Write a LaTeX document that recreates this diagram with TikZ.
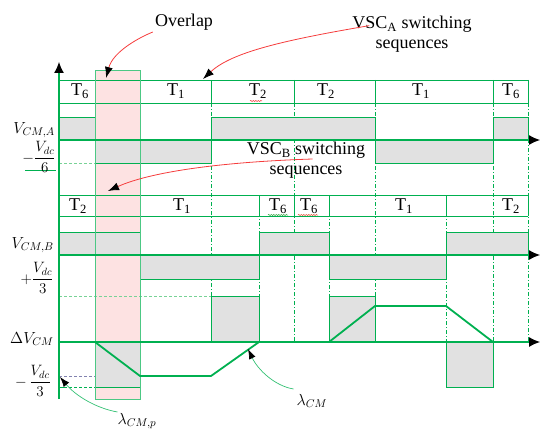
\RequirePackage{fix-cm}
\documentclass[tikz,border=0pt]{standalone}
\usepackage{fontspec}
\setmainfont{Liberation Serif}
\usetikzlibrary{arrows.meta,decorations.pathmorphing}
\definecolor{sig}{RGB}{0,176,80}
\definecolor{sigl}{RGB}{120,210,150}
\definecolor{gbox}{RGB}{225,225,225}
\definecolor{olap}{RGB}{253,226,226}
\definecolor{callred}{RGB}{245,60,60}
\definecolor{lamdash}{RGB}{130,130,175}
\begin{document}
\begin{tikzpicture}[x=1pt,y=-1pt,
  grid/.style={draw=sig,line width=0.9pt},
  wavebox/.style={draw=sig,line width=0.9pt,fill=gbox},
  tdash/.style={draw=sig,line width=0.7pt,dash pattern=on 4pt off 2pt on 1pt off 2pt},
  ldash/.style={draw=sigl,line width=0.7pt,dash pattern=on 3pt off 2pt},
  axisline/.style={draw=sig,line width=1.1pt,-{Latex[length=11pt,width=10pt,color=black]}},
  callout/.style={draw=callred,line width=0.8pt,-{Latex[length=11pt,width=8pt,color=black]}},
  gcallout/.style={draw=sig!80,line width=0.7pt,-{Latex[length=10pt,width=7pt,color=black]}},
  tlbl/.style={inner sep=0pt,font=\fontsize{18}{20}\selectfont},
  txt/.style={inner sep=0pt,align=center,font=\fontsize{18}{22}\selectfont},
  mlbl/.style={inner sep=0pt,font=\fontsize{16}{18}\selectfont},
  flbl/.style={inner sep=0pt,font=\fontsize{15}{17}\selectfont},
  squig/.style={line width=0.5pt,decorate,decoration={snake,amplitude=0.6pt,segment length=2.5pt}}]
\useasboundingbox (0,0) rectangle (540,433);

% overlap window
\fill[olap] (95,70) rectangle (140,399);

% time boundaries (dash-dot)
\foreach \xx in {211,294,375,493,528} \draw[tdash] (\xx,103) -- (\xx,342);
\foreach \xx in {259,329,446} \draw[tdash] (\xx,195) -- (\xx,342);

% level references
\draw[ldash] (59,163) -- (95,163);
\draw[ldash] (59,296) -- (211,296);
\draw[draw=lamdash,line width=0.7pt,dash pattern=on 3pt off 2pt] (59,376) -- (140,376);
\draw[draw=sig,line width=0.7pt,dash pattern=on 3pt off 2pt] (59,387) -- (95,387);
\draw[grid] (59,387) -- (66,387);
\draw[grid] (25,170) -- (56,170);

% sequence label rows
\draw[grid] (59,80) -- (528,80) (59,103) -- (528,103);
\foreach \xx in {211,294,375,493,528} \draw[grid] (\xx,80) -- (\xx,103);
\draw[grid] (59,195) -- (528,195) (59,216) -- (528,216);
\foreach \xx in {259,294,329,446,528} \draw[grid] (\xx,195) -- (\xx,216);

% VSC A common-mode voltage
\draw[wavebox] (59,117) rectangle (95,140);
\draw[wavebox] (95,140) rectangle (211,163);
\draw[wavebox] (211,117) rectangle (375,140);
\draw[wavebox] (375,140) rectangle (493,163);
\draw[wavebox] (493,117) rectangle (528,140);

% VSC B common-mode voltage
\draw[wavebox] (59,232) rectangle (140,255);
\draw[wavebox] (140,255) rectangle (259,279);
\draw[wavebox] (259,232) rectangle (329,255);
\draw[wavebox] (329,255) rectangle (446,279);
\draw[wavebox] (446,232) rectangle (528,255);

% difference of the common-mode voltages
\draw[wavebox] (95,342) rectangle (140,387);
\draw[wavebox] (211,296) rectangle (259,342);
\draw[wavebox] (329,296) rectangle (375,342);
\draw[wavebox] (446,342) rectangle (493,387);

% overlap window outline
\draw[draw=sig!70,line width=0.8pt] (95,70) rectangle (140,399);

% axes
\coordinate (org) at (59,399);
\coordinate (ytop) at (59,62);
\coordinate (aL) at (59,140);
\coordinate (aR) at (540,140);
\coordinate (bL) at (59,255);
\coordinate (bR) at (540,255);
\coordinate (dL) at (59,342);
\coordinate (dR) at (540,342);
\draw[axisline] (org) -- (ytop);
\draw[axisline] (aL) -- (aR);
\draw[axisline] (bL) -- (bR);
\draw[axisline] (dL) -- (dR);

% common-mode current trajectory
\draw[draw=sig,line width=1.8pt,line join=round]
  (59,342) -- (95,342) -- (140,376) -- (211,376) -- (259,342) -- (329,342)
  -- (375,306) -- (446,306) -- (493,342) -- (528,342);

% sequence labels
\node[tlbl] (ta1) at (80,91) {T\textsubscript{6}};
\node[tlbl] (ta2) at (176,91) {T\textsubscript{1}};
\node[tlbl] (ta3) at (258,91) {T\textsubscript{2}};
\node[tlbl] (ta4) at (326,91) {T\textsubscript{2}};
\node[tlbl] (ta5) at (421,91) {T\textsubscript{1}};
\node[tlbl] (ta6) at (511,91) {T\textsubscript{6}};
\node[tlbl] (tb1) at (78,206) {T\textsubscript{2}};
\node[tlbl] (tb2) at (182,206) {T\textsubscript{1}};
\node[tlbl] (tb3) at (278,206) {T\textsubscript{6}};
\node[tlbl] (tb4) at (309,206) {T\textsubscript{6}};
\node[tlbl] (tb5) at (404,206) {T\textsubscript{1}};
\node[tlbl] (tb6) at (511,206) {T\textsubscript{2}};
\draw[callred,squig] (250,101) -- (262,101);
\draw[sig!70!olive,squig] (268,215) -- (288,215);
\draw[callred!80!olive,squig] (298,215) -- (318,215);

% axis labels
\node[mlbl,anchor=east] (va) at (55,130) {$V_{CM,A}$};
\node[flbl] (vdc6) at (39,157) {$\displaystyle -\frac{V_{dc}}{6}$};
\node[mlbl,anchor=east] (vb) at (54,245) {$V_{CM,B}$};
\node[flbl] (vdc3p) at (37,278) {$\displaystyle +\frac{V_{dc}}{3}$};
\node[mlbl,anchor=east] (dv) at (54,339) {$\Delta V_{CM}$};
\node[flbl] (vdc3m) at (33,381) {$\displaystyle -\,\frac{V_{dc}}{3}$};

% callouts
\node[txt] (ov) at (184,22) {Overlap};
\node[txt] (sa) at (412,34) {VSC\textsubscript{A} switching\\[-2pt]sequences};
\node[txt] (sb) at (306,160) {VSC\textsubscript{B} switching\\[-2pt]sequences};
\coordinate (ovtip) at (106,78);
\coordinate (satip) at (203,79);
\coordinate (sbtip) at (108,191);
\draw[callout] (ov.west) ++(-2,10) .. controls (138,38) and (113,52) .. (ovtip);
\draw[callout] (sa.north west) ++(17,10) .. controls (285,40) and (232,52) .. (satip);
\draw[callout] (sb.west) ++(66,-1) .. controls (220,162) and (150,172) .. (sbtip);

\node[mlbl] (lp) at (137,421) {$\lambda_{CM,p}$};
\node[mlbl] (lc) at (312,401) {$\lambda_{CM}$};
\coordinate (lptip) at (60,377);
\coordinate (lctip) at (248,349);
\draw[gcallout] (lp.west) ++(0,-9) .. controls (95,408) and (75,395) .. (lptip);
\draw[gcallout] (lc.west) ++(-3,-12) .. controls (275,386) and (258,370) .. (lctip);
\end{tikzpicture}
\end{document}
